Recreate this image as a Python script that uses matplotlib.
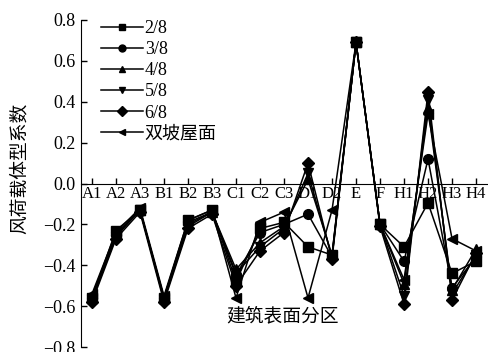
import matplotlib
matplotlib.use('Agg')
from matplotlib import pyplot as plt

# 测点分区
zones = ['A1', 'A2', 'A3', 'B1', 'B2', 'B3', 'C1', 'C2', 'C3',
         'D1', 'D2', 'E', 'F', 'H1', 'H2', 'H3', 'H4']

# 各坡度下的风荷载体型系数
s28 = [-0.56, -0.23, -0.13, -0.56, -0.18, -0.13, -0.48, -0.22, -0.19,
       -0.31, -0.35, 0.69, -0.20, -0.31, -0.095, -0.44, -0.38]
s38 = [-0.56, -0.25, -0.13, -0.56, -0.19, -0.14, -0.45, -0.24, -0.20,
       -0.15, -0.36, 0.69, -0.20, -0.38, 0.12, -0.51, -0.36]
s48 = [-0.55, -0.25, -0.13, -0.56, -0.20, -0.14, -0.42, -0.29, -0.21,
       0.02, -0.35, 0.69, -0.20, -0.49, 0.37, -0.52, -0.32]
s58 = [-0.57, -0.26, -0.13, -0.57, -0.21, -0.14, -0.44, -0.31, -0.22,
       0.05, -0.36, 0.69, -0.20, -0.55, 0.41, -0.54, -0.35]
s68 = [-0.58, -0.27, -0.14, -0.58, -0.22, -0.15, -0.50, -0.33, -0.24,
       0.10, -0.37, 0.69, -0.21, -0.59, 0.45, -0.57, -0.34]
gable = [-0.54, -0.24, -0.12, -0.55, -0.18, -0.13, -0.56, -0.19, -0.14,
         -0.56, -0.13, 0.69, -0.20, -0.47, 0.34, -0.27, -0.33]

series = [('2/8', s28, 's'), ('3/8', s38, 'o'), ('4/8', s48, '^'),
          ('5/8', s58, 'v'), ('6/8', s68, 'D'), ('双坡屋面', gable, '<')]

fonts = ['Liberation Serif', 'Noto Sans CJK SC']
plt.rcParams['font.family'] = fonts
plt.rcParams['axes.unicode_minus'] = True

fig = plt.figure(figsize=(4.89, 3.52), dpi=100)
ax = fig.add_axes([81 / 489, 5 / 352, 408 / 489, 327 / 352])

x = list(range(len(zones)))
for name, vals, mk in series:
    ms = 6.5 if mk == 'D' else 7
    ax.plot(x, vals, color='black', lw=1.1, marker=mk, ms=ms, label=name)

# 横轴放在 y=0 处（先设位置，否则刻度标签设置会被重置）
ax.spines['top'].set_visible(False)
ax.spines['right'].set_visible(False)
ax.spines['bottom'].set_position(('data', 0))

ax.set_xlim(-0.458, 16.54)
ax.set_ylim(-0.8, 0.8)
ax.set_yticks([0.8, 0.6, 0.4, 0.2, 0.0, -0.2, -0.4, -0.6, -0.8])
ax.set_yticklabels(['0.8', '0.6', '0.4', '0.2', '0.0', '\u22120.2',
                    '\u22120.4', '\u22120.6', '\u22120.8'])
ax.set_xticks(x)
ax.set_xticklabels(zones)

ax.tick_params(axis='both', direction='in', length=4, width=1, colors='black')
ax.tick_params(axis='x', pad=2, labelsize=12)
ax.tick_params(axis='y', pad=4, labelsize=13)

fig.text(20 / 489, 1 - 168 / 352, '风荷载体型系数', rotation=90,
         ha='center', va='center', fontsize=13.5)
fig.text(283 / 489, 1 - 316 / 352, '建筑表面分区',
         ha='center', va='center', fontsize=13.5)

handles, labels = ax.get_legend_handles_labels()
leg = ax.legend(handles, labels, loc='upper left', bbox_to_anchor=(0.05, 1.0),
                frameon=False, fontsize=13, handlelength=2.3, handletextpad=0.1,
                labelspacing=0.23, borderpad=0, borderaxespad=0)
for h in leg.legend_handles:
    h.set_markersize(5)

fig.savefig('out.png', dpi=100)
